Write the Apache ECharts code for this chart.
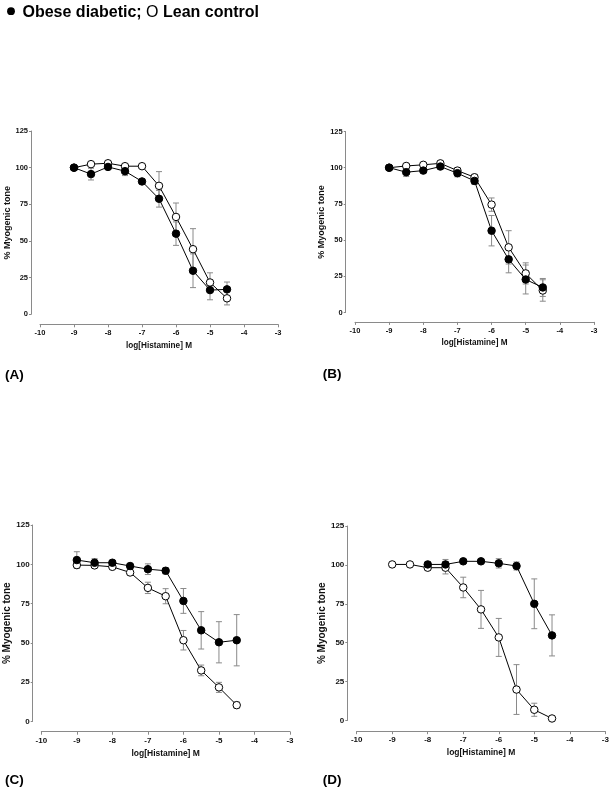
<!DOCTYPE html>
<html>
<head>
<meta charset="utf-8">
<script src="https://cdn.jsdelivr.net/npm/echarts@6/dist/echarts.min.js"></script>
<style>
html,body{margin:0;padding:0;background:#fff;}
#chart{width:615px;height:795px;}
</style>
</head>
<body>
<div id="chart"></div>
<script>
// ---- data ----
const doses = [-9, -8.5, -8, -7.5, -7, -6.5, -6, -5.5, -5, -4.5];
const xTicks = [-10, -9, -8, -7, -6, -5, -4, -3];
const yTicks = [0, 25, 50, 75, 100, 125];
const panelLabels = ['(A)', '(B)', '(C)', '(D)'];
const xTitle = 'log[Histamine] M';
const yTitle = '% Myogenic tone';

// Panel A
const aObese    = [100, 95.6, 100.5, 97.6, 90.6, 78.8, 55, 29.7, 16.5, 17];
const aObeseErr = [1, 4, 1.5, 3, 1.5, 5.7, 8, 11.5, 6.6, 5];
const aLean     = [100, 102.4, 103, 101, 101, 87.6, 66.4, 44.4, 21.7, 10.9];
const aLeanErr  = [1, 1.5, 1.5, 1.5, 1.5, 9.7, 9.5, 14, 6.6, 4.5];
// Panel B
const bObese    = [100, 96.9, 98, 100.8, 96.2, 90.9, 56.5, 36.7, 22.8, 17.3];
const bObeseErr = [1, 3, 1.5, 1.5, 2.5, 2.5, 10.5, 9.3, 10, 6.2];
const bLean     = [100, 101.2, 102, 103, 98, 93.4, 74.5, 45, 27, 15.2];
const bLeanErr  = [1, 1.5, 1.5, 1.5, 2, 2, 4.6, 11.5, 7.3, 7.4];
// Panel C
const cObese    = [102.7, 101, 101, 98.9, 96.9, 95.9, 76.7, 58, 50.4, 51.7];
const cObeseErr = [5.3, 2.6, 1.5, 1.5, 3.4, 2, 7.9, 11.9, 13.1, 16.3];
const cLean     = [99.5, 99.3, 98.4, 94.8, 85, 79.7, 51.7, 32.5, 21.7, 10.4];
const cLeanErr  = [1, 1, 1, 1.5, 3.6, 4.8, 6.2, 3.4, 3.2, 2];
// Panel D
const dObese    = [null, null, 100.3, 100.3, 102.3, 102.3, 101, 99.3, 75, 54.7];
const dObeseErr = [null, null, 1.5, 3.2, 1, 1, 3, 2.6, 16, 13.2];
const dLean     = [100.3, 100.3, 98.2, 98.2, 85.5, 71.4, 53.4, 19.9, 6.9, 1.3];
const dLeanErr  = [0.5, 0.5, 1.7, 4, 6.6, 12.2, 12.2, 16, 4.2, 1];

const panels = [
  {obese: aObese, obeseErr: aObeseErr, lean: aLean, leanErr: aLeanErr},
  {obese: bObese, obeseErr: bObeseErr, lean: bLean, leanErr: bLeanErr},
  {obese: cObese, obeseErr: cObeseErr, lean: cLean, leanErr: cLeanErr},
  {obese: dObese, obeseErr: dObeseErr, lean: dLean, leanErr: dLeanErr}
];

// ---- layout (pixels) ----
const grids = [
  {left: 40,    top: 131,   width: 238,   height: 183.3},
  {left: 355,   top: 131.5, width: 239,   height: 181},
  {left: 41.3,  top: 525,   width: 248.7, height: 196.5},
  {left: 356.7, top: 526,   width: 248.6, height: 194.5}
];
const yOffsets = [9, 9.3, 8.6, 9.4];
const xOffsets = [10, 9.4, 10.2, 10.7];
const tickFont = [7.5, 7.5, 8, 8];
const xTitleFont = [8.2, 8.2, 8.5, 8.5];
const yTitleFont = [9, 9, 10, 10];
const labelPos = [[5, 375], [322.7, 374], [5, 780], [322.7, 780]];

const FONT = "'Liberation Sans', Arial, sans-serif";
const AXIS_GRAY = '#8a8a8a';
const ERR_GRAY = '#8a8a8a';

function pairs(vals) {
  const out = [];
  doses.forEach((d, i) => { if (vals[i] != null) out.push([d, vals[i]]); });
  return out;
}
function triples(vals, errs) {
  const out = [];
  doses.forEach((d, i) => { if (vals[i] != null) out.push([d, vals[i], errs[i]]); });
  return out;
}

function errRender(params, api) {
  const x = api.value(0), y = api.value(1), e = api.value(2);
  const top = api.coord([x, y + e]);
  const bot = api.coord([x, y - e]);
  const hw = 3;
  const st = {stroke: ERR_GRAY, lineWidth: 1};
  return {
    type: 'group',
    children: [
      {type: 'line', shape: {x1: top[0], y1: top[1], x2: bot[0], y2: bot[1]}, style: st},
      {type: 'line', shape: {x1: top[0] - hw, y1: top[1], x2: top[0] + hw, y2: top[1]}, style: st},
      {type: 'line', shape: {x1: bot[0] - hw, y1: bot[1], x2: bot[0] + hw, y2: bot[1]}, style: st}
    ]
  };
}

const option = {
  animation: false,
  backgroundColor: '#fff',
  grid: grids.map(g => Object.assign({containLabel: false}, g)),
  xAxis: grids.map((g, i) => ({
    type: 'value', gridIndex: i,
    min: xTicks[0], max: xTicks[xTicks.length - 1], interval: 1,
    offset: xOffsets[i],
    name: xTitle, nameLocation: 'middle', nameGap: 17,
    nameTextStyle: {fontFamily: FONT, fontWeight: 'bold', fontSize: xTitleFont[i], color: '#111'},
    axisLine: {show: true, onZero: false, lineStyle: {color: AXIS_GRAY, width: 1}},
    axisTick: {show: true, length: 3, lineStyle: {color: AXIS_GRAY}},
    axisLabel: {fontFamily: FONT, fontWeight: 'bold', fontSize: tickFont[i], color: '#111', margin: 5},
    splitLine: {show: false}
  })),
  yAxis: grids.map((g, i) => ({
    type: 'value', gridIndex: i,
    min: yTicks[0], max: yTicks[yTicks.length - 1], interval: 25,
    offset: yOffsets[i],
    name: yTitle, nameLocation: 'middle', nameGap: 15,
    nameTextStyle: {fontFamily: FONT, fontWeight: 'bold', fontSize: yTitleFont[i], color: '#111'},
    axisLine: {show: true, onZero: false, lineStyle: {color: AXIS_GRAY, width: 1}},
    axisTick: {show: true, length: 2, lineStyle: {color: AXIS_GRAY}},
    axisLabel: {fontFamily: FONT, fontWeight: 'bold', fontSize: tickFont[i], color: '#111', margin: 3},
    splitLine: {show: false}
  })),
  series: [],
  graphic: []
};

panels.forEach((p, i) => {
  option.series.push({
    type: 'custom', xAxisIndex: i, yAxisIndex: i, z: 1,
    renderItem: errRender, data: triples(p.obese, p.obeseErr)
  });
  option.series.push({
    type: 'custom', xAxisIndex: i, yAxisIndex: i, z: 1,
    renderItem: errRender, data: triples(p.lean, p.leanErr)
  });
  option.series.push({
    type: 'line', xAxisIndex: i, yAxisIndex: i, z: 3,
    data: pairs(p.lean),
    symbol: 'circle', symbolSize: 7.5, showAllSymbol: true,
    lineStyle: {color: '#000', width: 1},
    itemStyle: {color: '#fff', borderColor: '#000', borderWidth: 1}
  });
  option.series.push({
    type: 'line', xAxisIndex: i, yAxisIndex: i, z: 4,
    data: pairs(p.obese),
    symbol: 'circle', symbolSize: 7.5, showAllSymbol: true,
    lineStyle: {color: '#000', width: 1},
    itemStyle: {color: '#000', borderColor: '#000', borderWidth: 1}
  });
});

// legend line at top
option.graphic.push({
  type: 'circle', shape: {cx: 11, cy: 11.2, r: 3.9}, style: {fill: '#000'}
});
option.graphic.push({
  type: 'text', x: 22.5, y: 13,
  style: {
    text: '{b|Obese diabetic; }{r|O}{b| Lean control}',
    verticalAlign: 'middle',
    fill: '#000',
    rich: {
      b: {fontFamily: FONT, fontWeight: 'bold', fontSize: 16, fill: '#000'},
      r: {fontFamily: FONT, fontWeight: 'normal', fontSize: 16, fill: '#000'}
    }
  }
});
panelLabels.forEach((t, i) => {
  option.graphic.push({
    type: 'text', x: labelPos[i][0], y: labelPos[i][1],
    style: {text: t, fontFamily: FONT, fontWeight: 'bold', fontSize: 13.5, fill: '#000', verticalAlign: 'middle'}
  });
});

const chart = echarts.init(document.getElementById('chart'), null, {renderer: 'canvas'});
chart.setOption(option);
</script>
</body>
</html>
